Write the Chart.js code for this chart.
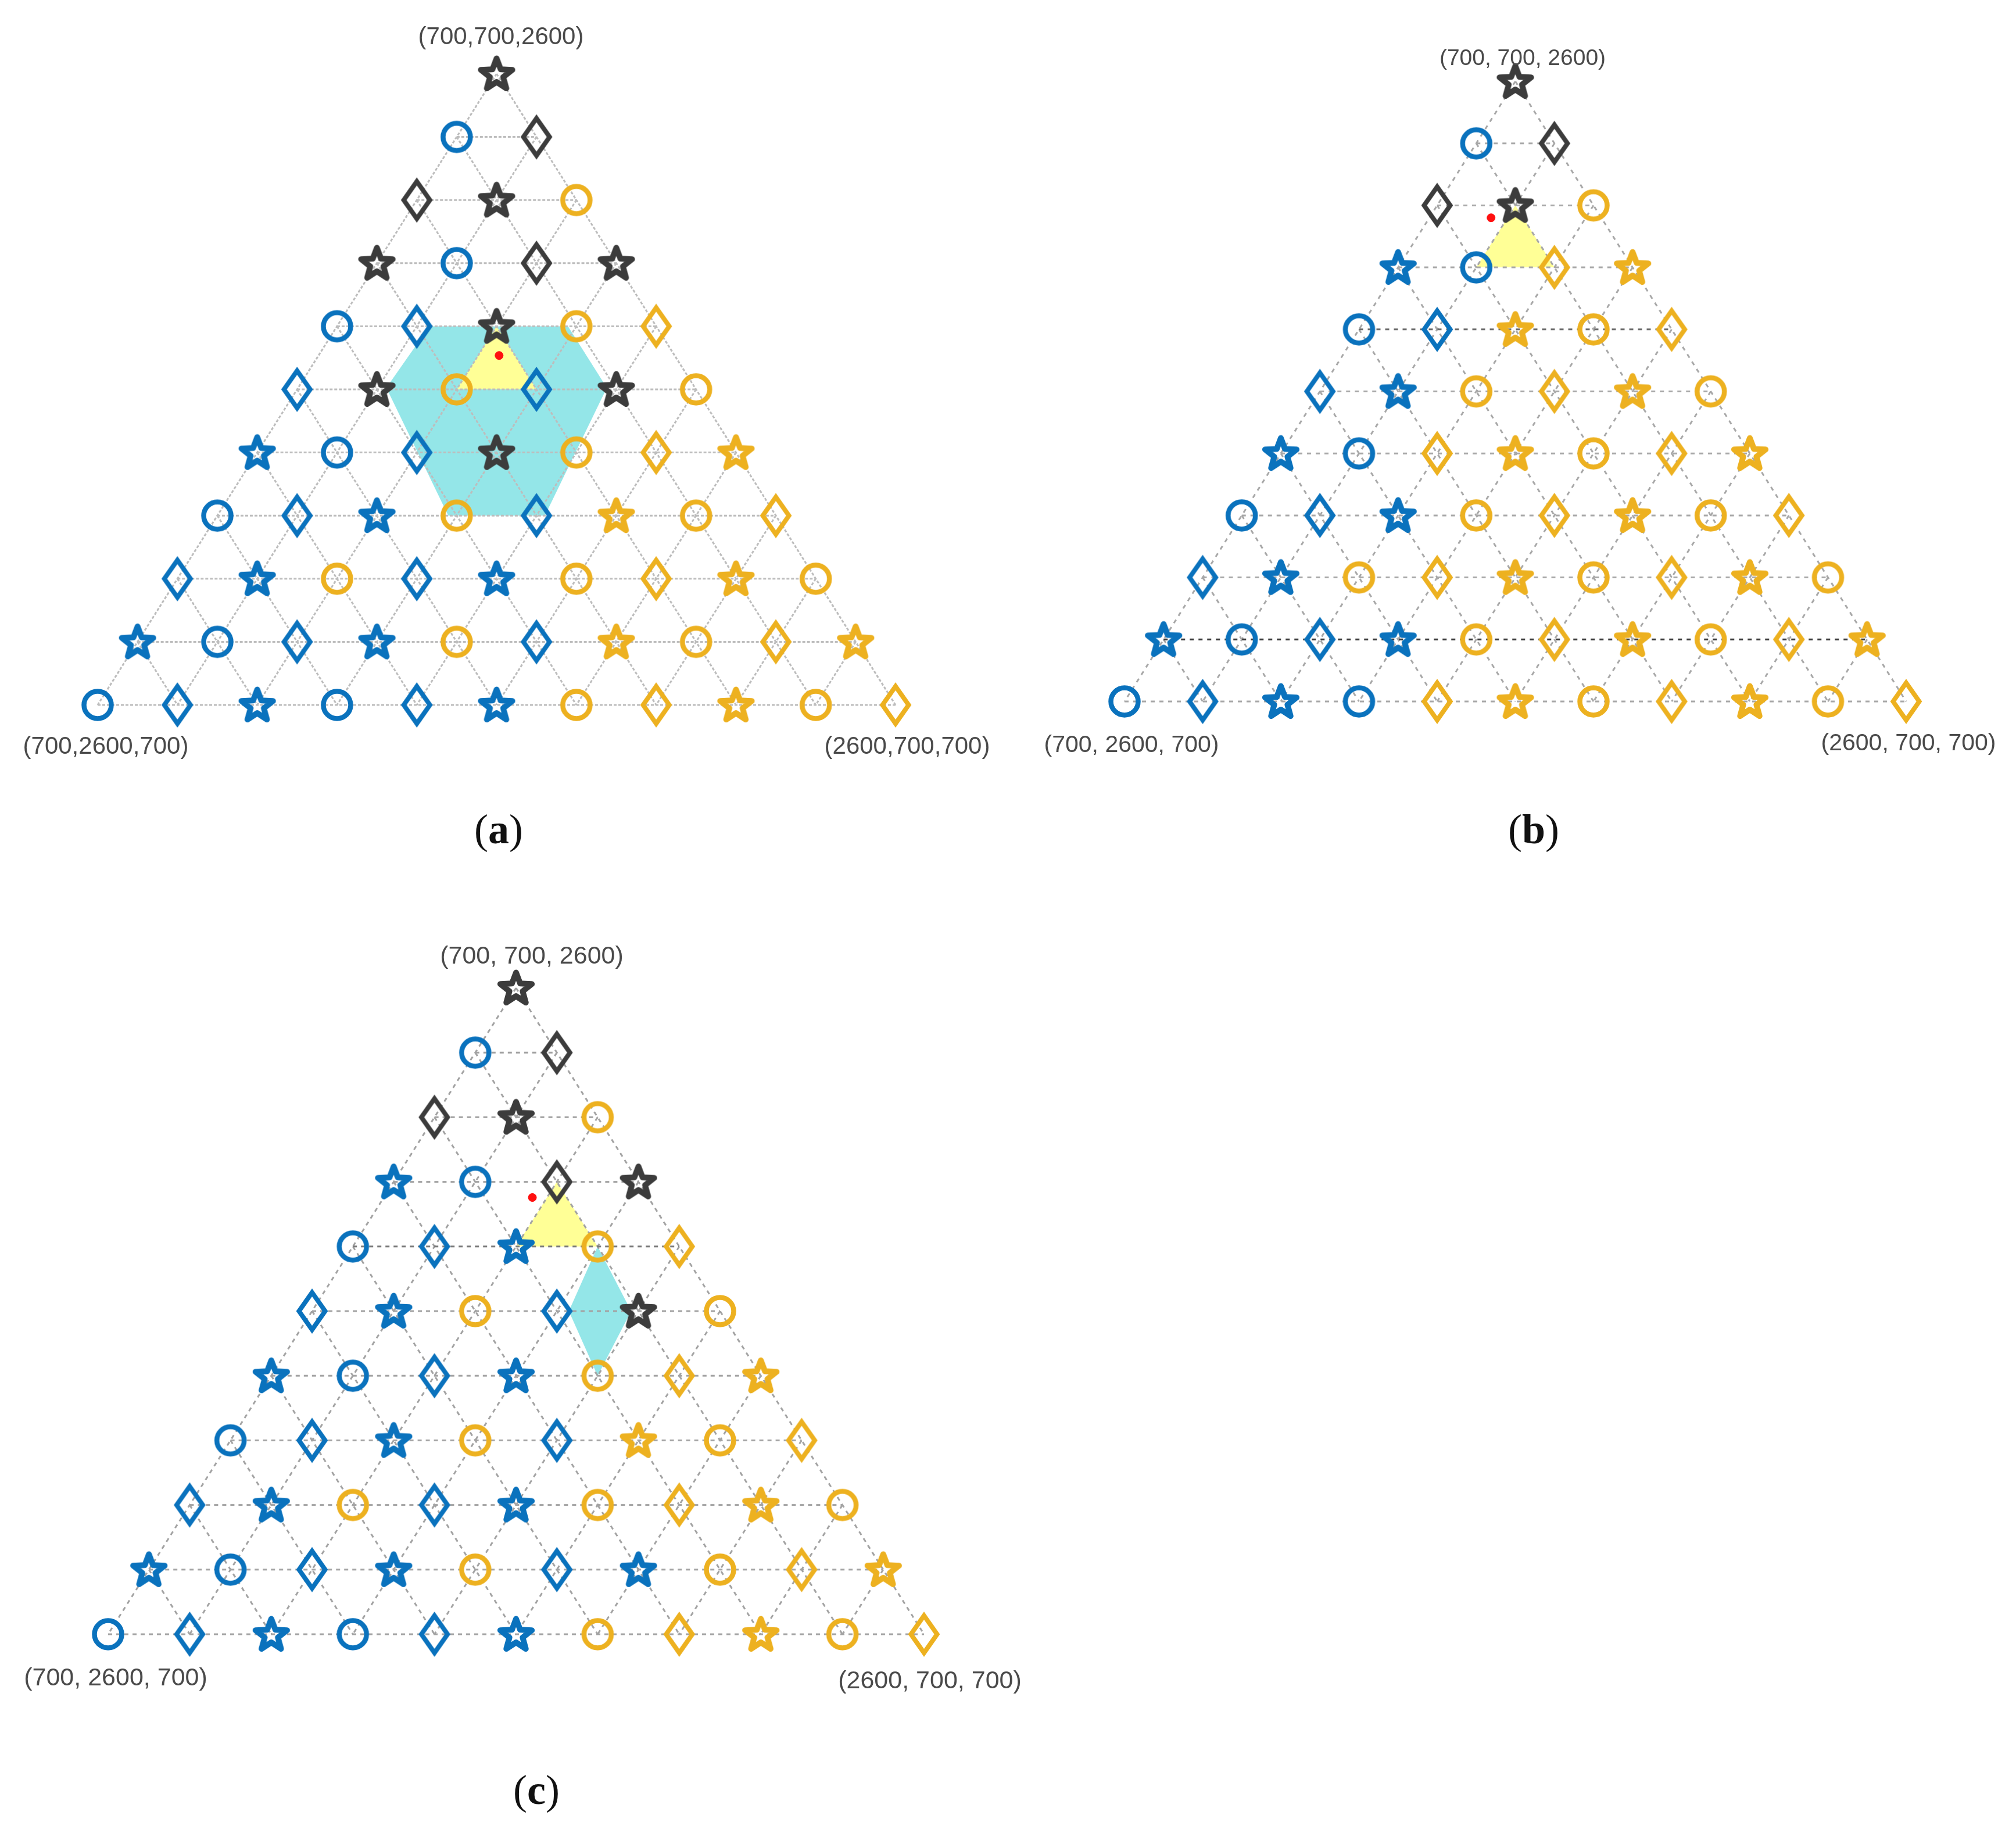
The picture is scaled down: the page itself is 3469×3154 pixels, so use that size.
<!DOCTYPE html>
<html><head><meta charset="utf-8">
<script src="https://cdn.jsdelivr.net/npm/chart.js@4.4.0/dist/chart.umd.min.js"></script>
<style>
html,body{margin:0;padding:0;background:#fff;}
body{width:3469px;height:3154px;position:relative;overflow:hidden;}
canvas{position:absolute;}
.lbl{position:absolute;font-family:"Liberation Sans",Arial,sans-serif;color:#4a4a4a;white-space:nowrap;transform:translate(-50%,-50%);line-height:1;}
.cap{position:absolute;font-family:"Liberation Serif","Times New Roman",serif;font-size:72px;color:#111;transform:translate(-50%,-50%);white-space:nowrap;line-height:1;}
.cap b{font-weight:bold;}
</style></head><body>
<canvas id="ca" width="1734" height="1330" style="left:0;top:0"></canvas>
<canvas id="cb" width="1735" height="1330" style="left:1734px;top:0"></canvas>
<canvas id="cc" width="1734" height="1400" style="left:0;top:1577px"></canvas>

<div class="lbl" style="left:862px;top:62px;font-size:42px">(700,700,2600)</div>
<div class="lbl" style="left:182px;top:1283px;font-size:42px">(700,2600,700)</div>
<div class="lbl" style="left:1561px;top:1283px;font-size:42px">(2600,700,700)</div>

<div class="lbl" style="left:2620px;top:98px;font-size:39px">(700, 700, 2600)</div>
<div class="lbl" style="left:1947px;top:1280px;font-size:41px">(700, 2600, 700)</div>
<div class="lbl" style="left:3284px;top:1277px;font-size:41px">(2600, 700, 700)</div>

<div class="lbl" style="left:915px;top:1643px;font-size:43px">(700, 700, 2600)</div>
<div class="lbl" style="left:199px;top:2885px;font-size:43px">(700, 2600, 700)</div>
<div class="lbl" style="left:1600px;top:2890px;font-size:43px">(2600, 700, 700)</div>

<div class="cap" style="left:858px;top:1427px">(<b>a</b>)</div>
<div class="cap" style="left:2639px;top:1427px">(<b>b</b>)</div>
<div class="cap" style="left:923px;top:3080px">(<b>c</b>)</div>

<script>
// ---- data ----
const levels = [700, 890, 1080, 1270, 1460, 1650, 1840, 2030, 2220, 2410, 2600];
const TOTAL = 4000;
// marker shape per lattice row (o = circle, d = diamond, s = star)
const markerShapes = ["s","od","dso","sods","odsod","dsodso","sodsods","odsodsod","dsodsodso","sodsodsods","odsodsodsod"];
// class per lattice point (b = blue, k = dark, y = orange)
const classesA = ["k","bk","kky","kbkk","bbkyy","bkybky","bbbkyyy","bbbybyyy","bbybbyyyy","bbbbybyyyy","bbbbbbyyyyy"];
const classesB = ["k","bk","kky","bbyy","bbyyy","bbyyyy","bbyyyyy","bbbyyyyy","bbyyyyyyy","bbbbyyyyyy","bbbbyyyyyyy"];
const classesC = ["k","bk","kky","bbkk","bbbyy","bbybky","bbbbyyy","bbbybyyy","bbybbyyyy","bbbbybbyyy","bbbbbbyyyyy"];
// shaded regions (ternary triples)
const hexagonA = [[920,1240,1840],[1250,910,1840],[1435,910,1655],[1480,1250,1270],[1250,1480,1270],[910,1435,1655]];
const triangleA = [[1080,1080,1840],[1080,1270,1650],[1270,1080,1650]];
const triangleB = [[890,890,2220],[890,1080,2030],[1080,890,2030]];
const triangleC = [[1080,890,2030],[1080,1080,1840],[1270,890,1840]];
const rhombusC = [[1270,890,1840],[1443,907,1650],[1460,1080,1460],[1298,1052,1650]];
const redPointA = [1130,1118,1752];
const redPointB = [850,968,2182];
const redPointC = [1046,970,1984];

// ---- styling ----
const COLORS = { b: '#0a72bd', k: '#3c3c3c', y: '#edb120' };
const styleCache = {};
function markerCanvas(shape, color) {
  const key = shape + color;
  if (styleCache[key]) return styleCache[key];
  const c = document.createElement('canvas');
  c.width = 92; c.height = 92;
  const g = c.getContext('2d');
  const cx = 46, cy = 46;
  g.strokeStyle = color;
  g.beginPath();
  if (shape === 'o') {
    g.lineWidth = 8.5;
    g.arc(cx, cy, 23.5, 0, Math.PI * 2);
  } else if (shape === 'd') {
    g.lineWidth = 8; g.lineJoin = 'miter'; g.miterLimit = 4;
    g.moveTo(cx, cy - 32); g.lineTo(cx + 22.5, cy); g.lineTo(cx, cy + 32); g.lineTo(cx - 22.5, cy); g.closePath();
  } else {
    g.lineWidth = 10; g.lineJoin = 'round';
    const R = 28.5, r = 12, oy = cy + 2;
    for (let k = 0; k < 10; k++) {
      const ang = -Math.PI / 2 + k * Math.PI / 5;
      const rr = (k % 2) ? r : R;
      const px = cx + rr * Math.cos(ang), py = oy + rr * Math.sin(ang);
      if (k === 0) g.moveTo(px, py); else g.lineTo(px, py);
    }
    g.closePath();
  }
  g.stroke();
  styleCache[key] = c;
  return c;
}

function toXY(t) { return { x: (t[0] - t[1]) / 2, y: t[2] }; }
function lattice(r, i) { const a = levels[i], c = levels[10 - r]; return [a, TOTAL - a - c, c]; }

function buildChart(id, classes, pad, opts) {
  const datasets = [];
  const pts = [], styles = [];
  for (let r = 0; r <= 10; r++) {
    for (let i = 0; i <= r; i++) {
      pts.push(toXY(lattice(r, i)));
      styles.push(markerCanvas(markerShapes[r][i], COLORS[classes[r][i]]));
    }
  }
  datasets.push({ data: pts, showLine: false, pointStyle: styles, pointRadius: 10, order: 1, clip: false });
  datasets.push({ data: [toXY(opts.red)], showLine: false, pointStyle: 'circle', pointRadius: 7,
    backgroundColor: '#ff1010', borderColor: '#ff1010', borderWidth: 1, order: 0, clip: false });
  const gs = opts.grid;
  function gridLine(p, q, color) {
    datasets.push({ data: [toXY(p), toXY(q)], showLine: true, pointRadius: 0, borderColor: color || gs.color,
      borderWidth: gs.width, borderDash: gs.dash, fill: false, order: 3, clip: false });
  }
  for (let r = 1; r <= 10; r++) gridLine(lattice(r, 0), lattice(r, r), (opts.rowColors || {})[r]);
  for (let i = 0; i < 10; i++) gridLine(lattice(i, i), lattice(10, i));
  for (let j = 0; j < 10; j++) gridLine(lattice(j, 0), lattice(10, 10 - j));
  function region(poly, color, order) {
    const d = poly.map(toXY); d.push(toXY(poly[0]));
    datasets.push({ data: d, showLine: true, pointRadius: 0, borderWidth: 0, borderColor: 'rgba(0,0,0,0)',
      backgroundColor: color, fill: 'shape', tension: 0, order: order, clip: false });
  }
  (opts.regions || []).forEach(rg => region(rg.poly, rg.color, rg.order));

  return new Chart(document.getElementById(id), {
    type: 'line',
    data: { datasets: datasets },
    options: {
      responsive: false, animation: false, devicePixelRatio: 1,
      layout: { padding: pad },
      plugins: { legend: { display: false }, tooltip: { enabled: false } },
      scales: {
        x: { type: 'linear', min: -950, max: 950, display: false },
        y: { type: 'linear', min: 700, max: 2600, display: false }
      },
      elements: { line: { tension: 0 } }
    }
  });
}

const CYAN = 'rgba(70,212,215,0.58)';
const YELLOW = 'rgb(255,255,150)';

buildChart('ca', classesA, { left: 168, right: 193, top: 127, bottom: 117 }, {
  red: redPointA,
  grid: { color: '#bdbdbd', width: 3, dash: [5, 3] },
  regions: [ { poly: hexagonA, color: CYAN, order: 5 }, { poly: triangleA, color: YELLOW, order: 4 } ]
});
buildChart('cb', classesB, { left: 201, right: 189, top: 140, bottom: 123 }, {
  red: redPointB,
  grid: { color: '#a8a8a8', width: 3, dash: [7, 8] },
  rowColors: { 9: '#3a3a3a', 4: '#6c6c6c' },
  regions: [ { poly: triangleB, color: YELLOW, order: 4 } ]
});
buildChart('cc', classesC, { left: 186, right: 144, top: 123, bottom: 165 }, {
  red: redPointC,
  grid: { color: '#a3a3a3', width: 3, dash: [7, 7] },
  rowColors: { 4: '#7a7a7a' },
  regions: [ { poly: rhombusC, color: CYAN, order: 5 }, { poly: triangleC, color: YELLOW, order: 4 } ]
});
</script>
</body></html>
